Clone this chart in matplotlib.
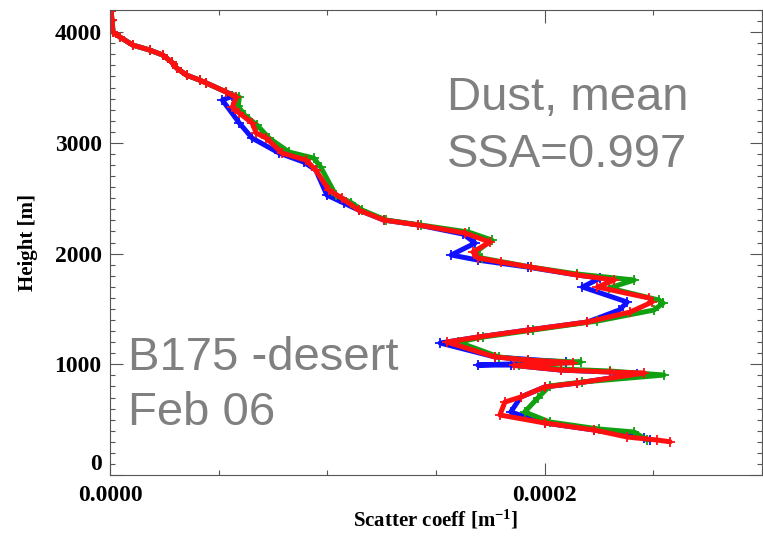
import matplotlib
matplotlib.use("Agg")
import matplotlib.pyplot as plt
from matplotlib.ticker import MultipleLocator, FixedLocator

plt.rcParams["mathtext.fontset"] = "custom"
plt.rcParams["mathtext.rm"] = "Liberation Serif:bold"
plt.rcParams["mathtext.it"] = "Liberation Serif:bold"
plt.rcParams["mathtext.bf"] = "Liberation Serif:bold"
plt.rcParams["mathtext.default"] = "rm"

# ---- data (scatter coefficient in units of 1e-5 m^-1, height in m) ----
red_scat = [0.05, 0.09, 0.14, 0.46, 1.05, 1.83, 2.43, 2.84, 3.07, 3.52, 4.12, 4.44, 5.35, 5.81,
            5.63, 5.95, 6.54, 6.73, 7.19, 7.92, 9.02, 9.47, 10.07, 10.66, 11.44, 12.59, 14.19,
            16.34, 17.48, 16.70, 16.93, 17.99, 19.36, 21.51, 23.20, 22.43, 24.81, 24.94, 23.94,
            21.97, 19.22, 16.93, 15.51, 17.71, 19.22, 21.30, 18.60, 20.73, 23.02, 24.58, 21.51,
            20.00, 18.90, 18.17, 17.94, 20.00, 22.29, 23.80, 25.17, 25.77]
red_height = [4190, 4109, 4000, 3955, 3883, 3838, 3793, 3729, 3675, 3612, 3567, 3540, 3459, 3413,
              3323, 3269, 3179, 3088, 3043, 2908, 2844, 2754, 2574, 2501, 2393, 2303, 2258,
              2185, 2104, 2014, 1960, 1923, 1878, 1806, 1761, 1698, 1598, 1562, 1472,
              1382, 1309, 1246, 1201, 1066, 1038, 1015, 990, 948, 930, 921, 831,
              795, 704, 659, 542, 470, 406, 343, 316, 300]

blue_scat = [0.05, 0.09, 0.14, 0.46, 1.05, 1.83, 2.43, 2.84, 3.07, 3.52, 4.12, 4.44, 5.35, 5.60,
             5.17, 5.95, 6.54, 7.78, 8.92, 9.47, 9.98, 10.76, 11.44, 12.59, 14.19,
             16.25, 16.80, 15.70, 16.93, 19.22, 21.51, 22.56, 21.74, 23.80, 23.43,
             21.97, 19.22, 16.93, 15.19, 17.71, 21.00, 16.93, 18.44, 20.73, 23.02, 24.26, 21.51,
             20.00, 18.90, 18.44, 20.00, 22.29, 24.58, 24.85]
blue_height = [4190, 4109, 4000, 3955, 3883, 3838, 3793, 3729, 3675, 3612, 3567, 3540, 3459, 3420,
               3386, 3179, 3043, 2908, 2826, 2754, 2528, 2456, 2393, 2303, 2258,
               2176, 2095, 1987, 1941, 1878, 1806, 1779, 1698, 1562, 1490,
               1382, 1309, 1246, 1192, 1066, 1020, 993, 993, 948, 930, 912, 831,
               795, 704, 569, 470, 406, 334, 316]

green_scat = [0.05, 0.09, 0.14, 0.46, 1.05, 1.83, 2.43, 2.84, 3.07, 3.52, 4.12, 4.44, 5.35, 5.95,
              5.90, 6.20, 6.77, 7.32, 8.24, 9.38, 9.70, 10.39, 11.10, 11.60, 12.70, 14.30,
              16.50, 17.57, 16.84, 17.10, 19.36, 21.51, 24.12, 22.97, 25.26, 25.45, 25.03,
              22.43, 19.45, 17.16, 16.02, 17.90, 19.22, 21.65, 18.80, 20.73, 23.02, 25.49, 21.74,
              20.23, 19.68, 19.08, 20.23, 22.51, 24.12, 24.71]
green_height = [4190, 4109, 4000, 3955, 3883, 3838, 3793, 3729, 3675, 3612, 3567, 3540, 3459, 3413,
                3330, 3250, 3160, 3043, 2917, 2862, 2780, 2528, 2460, 2393, 2303, 2258,
                2194, 2122, 2014, 1960, 1878, 1815, 1761, 1689, 1580, 1553, 1490,
                1391, 1309, 1246, 1201, 1066, 1038, 1020, 990, 957, 939, 903, 840,
                804, 695, 569, 479, 415, 388, 316]

x_tick_labels = ["0.0000", "0.0002"]

series = [("blue", blue_scat, blue_height, "#1010ff"),
          ("green", green_scat, green_height, "#10a010"),
          ("red", red_scat, red_height, "#ff1010")]

W, H = 763, 537
fig = plt.figure(figsize=(W / 100, H / 100), dpi=100)
ax = fig.add_axes([110 / W, (H - 475) / H, 652 / W, 465 / H])

for name, xs, ys, col in series:
    xv = [v * 1e-5 for v in xs]
    ax.plot(xv, ys, color=col, lw=3.6, marker="+", ms=7, mew=1.3,
            solid_joinstyle="round", solid_capstyle="round")

ax.set_xlim(0, 0.0003)
ax.set_ylim(0, 4200)

ax.xaxis.set_major_locator(FixedLocator([0.0, 0.0002]))
ax.xaxis.set_minor_locator(MultipleLocator(0.00005))
ax.set_xticklabels(x_tick_labels)
ax.yaxis.set_major_locator(MultipleLocator(1000))
ax.yaxis.set_minor_locator(MultipleLocator(100))

serif = ["Liberation Serif", "DejaVu Serif"]
ax.tick_params(which="both", direction="in", top=True, right=True, color="#555555")
ax.tick_params(which="major", length=9, width=0.8)
ax.tick_params(which="minor", length=3.5, width=0.8)
ax.tick_params(axis="x", pad=7)
ax.tick_params(axis="y", pad=6)
for lab in ax.get_xticklabels() + ax.get_yticklabels():
    lab.set_fontfamily(serif)
    lab.set_fontweight("bold")
    lab.set_fontsize(17)

# the "0" height label sits slightly above its tick in the reference
ylabs = ax.get_yticklabels()
fig.canvas.draw()
for lab in ax.get_yticklabels():
    if lab.get_text() == "0":
        lab.set_va("bottom")

for s in ax.spines.values():
    s.set_color("#555555")
    s.set_linewidth(0.8)

ax.set_xlabel("Scatter coeff [m$^{-1}$]", fontfamily=serif, fontweight="bold",
              fontsize=15, labelpad=2)
ax.set_ylabel("Height [m]", fontfamily=serif, fontweight="bold", fontsize=15, labelpad=12)

gray = "#808080"
sans = ["Liberation Sans", "DejaVu Sans"]
fig.text(447 / W, 1 - 110 / H, "Dust, mean", color=gray, fontsize=34, family=sans, va="baseline")
fig.text(447 / W, 1 - 167 / H, "SSA=0.997", color=gray, fontsize=34, family=sans, va="baseline")
fig.text(128 / W, 1 - 370 / H, "B175 -desert", color=gray, fontsize=34, family=sans, va="baseline")
fig.text(128 / W, 1 - 425 / H, "Feb 06", color=gray, fontsize=34, family=sans, va="baseline")

fig.savefig("out.png", dpi=100)
